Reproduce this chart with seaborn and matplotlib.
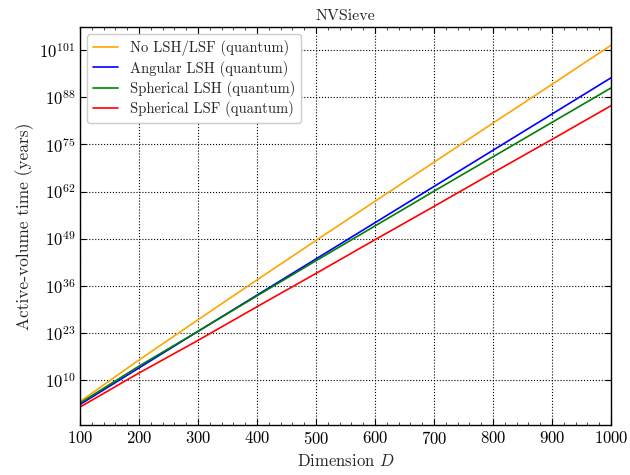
import numpy as np
import pandas as pd
import matplotlib
matplotlib.use("Agg")
import matplotlib.pyplot as plt
import matplotlib.ticker as mticker
import seaborn as sns

# Data: log10 of active-volume time (years)
dims = [100, 200, 300, 400, 500, 600, 700, 800, 900, 1000]
no_lsh_exp = [4.0, 15.5, 26.6, 37.6, 48.5, 59.3, 70.1, 80.9, 91.6, 102.4]
angular_exp = [3.2, 13.3, 23.4, 33.4, 43.4, 53.4, 63.4, 73.4, 83.4, 93.4]
sph_lsh_exp = [3.6, 13.8, 23.4, 33.2, 42.9, 52.5, 62.1, 71.6, 81.1, 90.6]
sph_lsf_exp = [2.5, 11.9, 20.9, 30.2, 39.4, 48.7, 57.9, 67.2, 76.4, 85.7]
series_names = ["No LSH/LSF (quantum)", "Angular LSH (quantum)",
                "Spherical LSH (quantum)", "Spherical LSF (quantum)"]
series_colors = ["orange", "blue", "green", "red"]
ytick_exps = [10, 23, 36, 49, 62, 75, 88, 101]
xticks = [100, 200, 300, 400, 500, 600, 700, 800, 900, 1000]

rows = []
for name, exps in zip(series_names, [no_lsh_exp, angular_exp, sph_lsh_exp, sph_lsf_exp]):
    for d, e in zip(dims, exps):
        rows.append({"D": d, "time": 10.0 ** e, "method": name})
df = pd.DataFrame(rows)

sns.set_style("ticks")
plt.rcParams.update({
    "font.family": ["cmr10", "DejaVu Serif"],
    "mathtext.fontset": "cm",
    "axes.formatter.use_mathtext": True,
    "axes.unicode_minus": False,
    "xtick.direction": "in",
    "ytick.direction": "in",
    "xtick.top": True,
    "ytick.right": True,
    "axes.edgecolor": "black",
    "axes.linewidth": 1.0,
})

fig = plt.figure(figsize=(6.3, 4.75), dpi=100)
ax = fig.add_axes([0.127, 0.105, 0.843, 0.838])

sns.lineplot(data=df, x="D", y="time", hue="method", hue_order=series_names,
             palette=dict(zip(series_names, series_colors)), ax=ax, linewidth=1.2)

ax.set_yscale("log")
ax.set_xlim(100, 1000)
all_exps = no_lsh_exp + angular_exp + sph_lsh_exp + sph_lsf_exp
lo, hi = min(all_exps), max(all_exps)
m = 0.05 * (hi - lo)
ax.set_ylim(10 ** (lo - m), 10 ** (hi + m))

ax.yaxis.set_major_locator(mticker.FixedLocator([10.0 ** e for e in ytick_exps]))
ax.yaxis.set_major_formatter(mticker.FixedFormatter([f"$10^{{{e}}}$" for e in ytick_exps]))
ax.yaxis.set_minor_locator(mticker.NullLocator())
ax.xaxis.set_major_locator(mticker.FixedLocator(xticks))
ax.xaxis.set_minor_locator(mticker.MultipleLocator(20))

ax.tick_params(axis="both", which="major", direction="in", length=4, width=0.8,
               labelsize=12, top=True, right=True, colors="black")
ax.tick_params(axis="x", which="minor", direction="in", length=2, width=0.6, top=True)

ax.grid(True, which="major", color="black", linestyle=":", linewidth=0.8)

ax.set_xlabel("Dimension $D$", fontsize=12)
ax.set_ylabel("Active-volume time (years)", fontsize=12.5)
ax.set_title("NVSieve", fontsize=11.5, pad=5)

handles, labels = ax.get_legend_handles_labels()
leg = ax.legend(handles, labels, loc="upper left", fontsize=10.5, frameon=True,
                fancybox=True, edgecolor="#cccccc", framealpha=1.0,
                handlelength=1.7, borderpad=0.4, labelspacing=0.3)

fig.savefig("out.png", dpi=100)
